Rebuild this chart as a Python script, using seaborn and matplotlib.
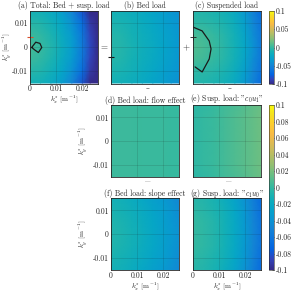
import numpy as np
import matplotlib
matplotlib.use("Agg")
import matplotlib.pyplot as plt
import seaborn as sns
from matplotlib.colors import LinearSegmentedColormap

# ---------------- data ----------------
kx = [0.0, 0.004, 0.008, 0.012, 0.016, 0.020, 0.023, 0.026]
ky = [0.015, 0.010, 0.005, 0.0, -0.005, -0.010, -0.015]

total = [
    [-0.012, -0.014, -0.020, -0.031, -0.050, -0.080, -0.100, -0.100],
    [-0.004, -0.007, -0.013, -0.024, -0.040, -0.067, -0.092, -0.100],
    [0.003, -0.001, -0.008, -0.019, -0.034, -0.060, -0.087, -0.100],
    [0.005, 0.001, -0.006, -0.017, -0.032, -0.057, -0.085, -0.100],
    [0.003, -0.001, -0.008, -0.019, -0.034, -0.060, -0.087, -0.100],
    [-0.004, -0.007, -0.013, -0.024, -0.040, -0.067, -0.092, -0.100],
    [-0.012, -0.014, -0.020, -0.031, -0.050, -0.080, -0.100, -0.100],
]
bed = [
    [-0.012, -0.014, -0.017, -0.021, -0.026, -0.032, -0.037, -0.042],
    [-0.008, -0.010, -0.013, -0.018, -0.023, -0.029, -0.034, -0.039],
    [-0.005, -0.007, -0.011, -0.016, -0.021, -0.027, -0.032, -0.037],
    [-0.004, -0.006, -0.010, -0.015, -0.020, -0.026, -0.031, -0.036],
    [-0.005, -0.007, -0.011, -0.016, -0.021, -0.027, -0.032, -0.037],
    [-0.008, -0.010, -0.013, -0.018, -0.023, -0.029, -0.034, -0.039],
    [-0.012, -0.014, -0.017, -0.021, -0.026, -0.032, -0.037, -0.042],
]
susp = [
    [-0.006, -0.007, -0.009, -0.013, -0.021, -0.036, -0.052, -0.068],
    [-0.002, -0.003, -0.005, -0.009, -0.017, -0.031, -0.047, -0.063],
    [0.006, 0.004, 0.000, -0.005, -0.013, -0.027, -0.043, -0.060],
    [0.008, 0.006, 0.002, -0.004, -0.012, -0.025, -0.040, -0.058],
    [0.006, 0.004, 0.000, -0.005, -0.013, -0.027, -0.043, -0.060],
    [-0.002, -0.003, -0.005, -0.009, -0.017, -0.031, -0.047, -0.063],
    [-0.006, -0.007, -0.009, -0.013, -0.021, -0.036, -0.052, -0.068],
]
bed_flow = [
    [0.003, 0.003, 0.003, 0.002, 0.002, 0.002, 0.001, 0.001],
    [0.003, 0.003, 0.003, 0.002, 0.002, 0.002, 0.001, 0.001],
    [0.003, 0.003, 0.003, 0.002, 0.002, 0.002, 0.001, 0.001],
    [0.003, 0.003, 0.003, 0.002, 0.002, 0.002, 0.001, 0.001],
    [0.003, 0.003, 0.003, 0.002, 0.002, 0.002, 0.001, 0.001],
    [0.003, 0.003, 0.003, 0.002, 0.002, 0.002, 0.001, 0.001],
    [0.003, 0.003, 0.003, 0.002, 0.002, 0.002, 0.001, 0.001],
]
susp_c0u1 = [
    [-0.003, -0.001, 0.001, 0.004, 0.007, 0.010, 0.013, 0.016],
    [-0.002, 0.000, 0.002, 0.005, 0.008, 0.011, 0.014, 0.017],
    [-0.002, 0.000, 0.002, 0.005, 0.008, 0.011, 0.014, 0.017],
    [-0.002, 0.000, 0.002, 0.005, 0.008, 0.011, 0.014, 0.017],
    [-0.002, 0.000, 0.002, 0.005, 0.008, 0.011, 0.014, 0.017],
    [-0.002, 0.000, 0.002, 0.005, 0.008, 0.011, 0.014, 0.017],
    [-0.003, -0.001, 0.001, 0.004, 0.007, 0.010, 0.013, 0.016],
]
bed_slope = [
    [-0.012, -0.014, -0.018, -0.023, -0.029, -0.035, -0.041, -0.047],
    [-0.009, -0.011, -0.015, -0.020, -0.026, -0.032, -0.038, -0.044],
    [-0.007, -0.009, -0.013, -0.018, -0.024, -0.030, -0.036, -0.042],
    [-0.006, -0.008, -0.012, -0.017, -0.023, -0.029, -0.035, -0.041],
    [-0.007, -0.009, -0.013, -0.018, -0.024, -0.030, -0.036, -0.042],
    [-0.009, -0.011, -0.015, -0.020, -0.026, -0.032, -0.038, -0.044],
    [-0.012, -0.014, -0.018, -0.023, -0.029, -0.035, -0.041, -0.047],
]
susp_c1u0 = [
    [-0.004, -0.006, -0.010, -0.017, -0.027, -0.041, -0.054, -0.068],
    [-0.002, -0.004, -0.008, -0.014, -0.024, -0.038, -0.051, -0.065],
    [0.000, -0.002, -0.006, -0.012, -0.022, -0.036, -0.049, -0.063],
    [0.000, -0.002, -0.006, -0.012, -0.022, -0.035, -0.048, -0.062],
    [0.000, -0.002, -0.006, -0.012, -0.022, -0.036, -0.049, -0.063],
    [-0.002, -0.004, -0.008, -0.014, -0.024, -0.038, -0.051, -0.065],
    [-0.004, -0.006, -0.010, -0.017, -0.027, -0.041, -0.054, -0.068],
]

# zero contours
contour_a_kx = [0.00065, 0.0022, 0.0038, 0.0045, 0.0032, 0.0019, 0.00065]
contour_a_ky = [-0.0002, 0.0020, 0.0015, -0.0002, -0.0023, -0.0013, -0.0002]
contour_c_kx = [0.0, 0.0035, 0.0062, 0.0069, 0.0062, 0.0035, 0.0008]
contour_c_ky = [0.0083, 0.0067, 0.0025, -0.0008, -0.0050, -0.0104, -0.0083]

titles = ["(a) Total: Bed + susp. load", "(b) Bed load", "(c) Suspended load",
          "(d) Bed load: flow effect", '(e) Susp. load: "$c_0u_1$"',
          "(f) Bed load: slope effect", '(g) Susp. load: "$c_1u_0$"']
xticks = [0.0, 0.01, 0.02]
xticklabels = ["0", "0.01", "0.02"]
yticks = [-0.01, 0.0, 0.01]
yticklabels = ["-0.01", "0", "0.01"]
cbar1_ticks = [-0.1, -0.05, 0.0, 0.05, 0.1]
cbar1_labels = ["-0.1", "-0.05", "0", "0.05", "0.1"]
cbar2_ticks = [-0.1, -0.08, -0.06, -0.04, -0.02, 0.0, 0.02, 0.04, 0.06, 0.08, 0.1]
cbar2_labels = ["-0.1", "-0.08", "-0.06", "-0.04", "-0.02", "0", "0.02", "0.04", "0.06", "0.08", "0.1"]

# ---------------- style ----------------
sns.set_theme(style="white")
plt.rcParams["font.family"] = ["cmr10", "DejaVu Serif"]
plt.rcParams["mathtext.fontset"] = "cm"
plt.rcParams["axes.unicode_minus"] = False
plt.rcParams["axes.formatter.use_mathtext"] = True
FS = 5.5
LFS = 5.2

parula_pts = [
    (0.2081, 0.1663, 0.5292), (0.1959, 0.2645, 0.7279), (0.0117, 0.3875, 0.8820),
    (0.0498, 0.4586, 0.8641), (0.0793, 0.5200, 0.8312), (0.0343, 0.5966, 0.8199),
    (0.0228, 0.6535, 0.7768), (0.0843, 0.6928, 0.7062), (0.2178, 0.7250, 0.6193),
    (0.3953, 0.7459, 0.5244), (0.5709, 0.7485, 0.4494), (0.7184, 0.7411, 0.3905),
    (0.8507, 0.7299, 0.3360), (0.9739, 0.7314, 0.2666), (0.9880, 0.8066, 0.1794),
    (0.9589, 0.8949, 0.1132), (0.9763, 0.9831, 0.0538)]
pos = [0, 4, 8, 12, 16, 20, 24, 28, 32, 36, 40, 44, 48, 52, 56, 60, 63]
parula = LinearSegmentedColormap.from_list(
    "parula", [(p / 63.0, c) for p, c in zip(pos, parula_pts)], N=256)

W, H = 305, 291
fig = plt.figure(figsize=(W / 100, H / 100), dpi=100)


def box(x0, y0, x1, y1):
    return [x0 / W, 1 - y1 / H, (x1 - x0) / W, (y1 - y0) / H]


cols = [(30, 97.5), (111, 178.5), (193, 260.5)]
rows = [(10.5, 83.5), (105, 177), (198, 270)]
panels = [
    (0, 0, total, True, True),
    (0, 1, bed, False, False),
    (0, 2, susp, False, False),
    (1, 1, bed_flow, True, False),
    (1, 2, susp_c0u1, False, False),
    (2, 1, bed_slope, True, True),
    (2, 2, susp_c1u0, False, True),
]
# label positions (axes fraction)
ylab_x = {0: -0.235, 1: -0.31}
xlab_y = {0: -0.135, 2: -0.135}

KX, KY = np.meshgrid(np.array(kx), np.array(ky))
axes = []
mesh = None
for i, (r, c, Z, ylab, xlab) in enumerate(panels):
    ax = fig.add_axes(box(cols[c][0], rows[r][0], cols[c][1], rows[r][1]))
    mesh = ax.pcolormesh(KX, KY, np.array(Z), shading="gouraud", cmap=parula,
                         vmin=-0.1, vmax=0.1, rasterized=True)
    ax.set_xticks(xticks)
    ax.set_yticks(yticks)
    ax.grid(True, color="k", alpha=0.18, linewidth=0.5)
    ax.set_axisbelow(False)
    ax.tick_params(direction="in", length=1.5, width=0.4, labelsize=FS, pad=1.5,
                   colors="#262626")
    ax.tick_params(axis="x", pad=1.0)
    for s in ax.spines.values():
        s.set_linewidth(0.6)
        s.set_color("#262626")
    if xlab:
        ax.set_xticklabels(xticklabels)
        ax.set_xlabel("$k_x^s$ [m$^{-1}$]", fontsize=LFS)
        ax.xaxis.set_label_coords(0.5, xlab_y[r])
    else:
        ax.set_xticklabels([])
    if ylab:
        ax.set_yticklabels(yticklabels)
        ax.set_ylabel("$k_y^s$ [m$^{-1}$]", fontsize=LFS)
        ax.yaxis.set_label_coords(ylab_x[c], 0.5)
    else:
        ax.set_yticklabels([])
    ax.set_title(titles[i], fontsize=FS, pad=1.5)
    axes.append(ax)

sns.lineplot(x=contour_a_kx, y=contour_a_ky, sort=False, ax=axes[0],
             color="k", linewidth=0.9, estimator=None)
sns.lineplot(x=contour_c_kx, y=contour_c_ky, sort=False, ax=axes[2],
             color="k", linewidth=0.9, estimator=None)
for ax in axes:
    ax.set_xlim(0, 0.0258)
    ax.set_ylim(-0.0152, 0.0152)

# small marks at the left edges
axes[0].plot([0.0], [0.004], marker="_", color="#d9502e", markersize=4,
             markeredgewidth=0.8, clip_on=False)
axes[1].plot([0.0], [-0.004], marker="_", color="k", markersize=4,
             markeredgewidth=0.8, clip_on=False)
axes[2].plot([0.0], [0.004], marker="+", color="k", markersize=4,
             markeredgewidth=0.6, clip_on=False)

# operators between panels
fig.text(104 / W, 1 - 48 / H, "=", fontsize=FS + 1, ha="center", va="center")
fig.text(186 / W, 1 - 48 / H, "+", fontsize=FS + 1, ha="center", va="center")
fig.text(148 / W, 1 - 88 / H, "\u2013", fontsize=FS, ha="center", va="center")
fig.text(230 / W, 1 - 88 / H, "\u2013", fontsize=FS, ha="center", va="center")
fig.text(148 / W, 1 - 182 / H, "|", fontsize=FS - 1.5, ha="center", va="center")
fig.text(229 / W, 1 - 182 / H, "|", fontsize=FS - 1.5, ha="center", va="center")

# colorbars
for (y0, y1, ticks, labels) in [(11, 84, cbar1_ticks, cbar1_labels),
                                (105, 270, cbar2_ticks, cbar2_labels)]:
    cax = fig.add_axes(box(269, y0, 274, y1))
    cb = fig.colorbar(mesh, cax=cax, ticks=ticks)
    cb.set_ticklabels(labels)
    cb.outline.set_linewidth(0.4)
    cax.tick_params(direction="in", length=1.2, width=0.4, labelsize=FS, pad=1.5,
                    colors="#262626")

fig.savefig("out.png", dpi=100)
